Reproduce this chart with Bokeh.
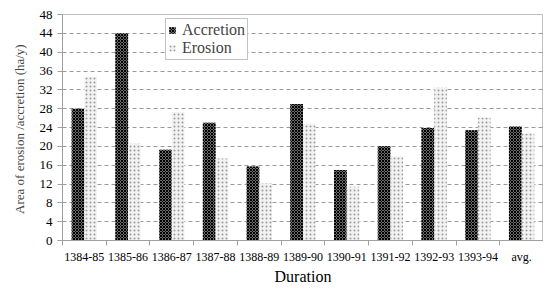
from bokeh.plotting import figure
from bokeh.models import ColumnDataSource, FixedTicker, Legend, LegendItem
from bokeh.transform import dodge
from bokeh.embed import file_html
from bokeh.resources import INLINE

categories = ["1384-85", "1385-86", "1386-87", "1387-88", "1388-89", "1389-90",
              "1390-91", "1391-92", "1392-93", "1393-94", "avg."]
accretion = [28.0, 44.0, 19.3, 25.0, 15.7, 29.0, 15.0, 20.0, 23.9, 23.4, 24.2]
erosion = [34.8, 20.6, 27.3, 17.4, 12.2, 24.8, 11.4, 17.9, 32.5, 26.1, 22.7]
y_ticks = [0, 4, 8, 12, 16, 20, 24, 28, 32, 36, 40, 44, 48]

xpos = [i + 0.5 for i in range(len(categories))]
src = ColumnDataSource(dict(x=xpos, acc=accretion, ero=erosion))

SERIF = "Liberation Serif"

p = figure(frame_width=481, frame_height=226, x_range=(0, len(categories)), y_range=(0, 48),
           output_backend="svg", toolbar_location=None,
           min_border_left=62, min_border_right=0, min_border_top=14, min_border_bottom=40)
p.outline_line_color = "#bfbfbf"
p.outline_line_width = 1

w = 0.29
r_acc = p.vbar(x=dodge("x", -w / 2, range=p.x_range), top="acc", width=w, source=src,
               fill_color="#6a6a6a", line_color=None,
               hatch_pattern="diagonal_cross", hatch_color="#000000", hatch_scale=3,
               hatch_weight=1.0)
r_ero = p.vbar(x=dodge("x", w / 2, range=p.x_range), top="ero", width=w, source=src,
               fill_color="#f2f2f2", line_color=None,
               hatch_pattern="dot", hatch_color="#9c9c9c", hatch_scale=4,
               hatch_weight=1.6)

p.xaxis.ticker = FixedTicker(ticks=xpos, minor_ticks=list(range(len(categories) + 1)))
p.xaxis.major_label_overrides = {x: c for x, c in zip(xpos, categories)}
p.xaxis.major_tick_line_color = None
p.xaxis.minor_tick_in = 0
p.xaxis.minor_tick_out = 5
p.xaxis.minor_tick_line_color = "#a0a0a0"
p.xaxis.axis_line_color = "#a0a0a0"
p.xaxis.major_label_text_font = SERIF
p.xaxis.major_label_text_font_size = "12px"
p.xaxis.major_label_text_color = "#000000"
p.xaxis.major_label_standoff = 3
p.xaxis.axis_label = "Duration"
p.xaxis.axis_label_text_font = SERIF
p.xaxis.axis_label_text_font_style = "normal"
p.xaxis.axis_label_text_font_size = "16px"
p.xaxis.axis_label_text_color = "#000000"
p.xaxis.axis_label_standoff = 1

p.yaxis.ticker = FixedTicker(ticks=y_ticks)
p.yaxis.major_tick_in = 0
p.yaxis.major_tick_out = 5
p.yaxis.minor_tick_line_color = None
p.yaxis.major_tick_line_color = "#a0a0a0"
p.yaxis.axis_line_color = "#a0a0a0"
p.yaxis.major_label_text_font = SERIF
p.yaxis.major_label_text_font_size = "13px"
p.yaxis.major_label_text_color = "#000000"
p.yaxis.major_label_standoff = 5
p.yaxis.axis_label = "Area of erosion /accretion  (ha/y)"
p.yaxis.axis_label_text_font = SERIF
p.yaxis.axis_label_text_font_style = "normal"
p.yaxis.axis_label_text_font_size = "13px"
p.yaxis.axis_label_standoff = 10

p.xgrid.grid_line_color = None
p.ygrid.grid_line_color = "#9a9a9a"
p.ygrid.grid_line_dash = "4 3"
p.ygrid.grid_line_width = 1

legend = Legend(items=[LegendItem(label="Accretion", renderers=[r_acc]),
                       LegendItem(label="Erosion", renderers=[r_ero])])
legend.label_text_font = SERIF
legend.label_text_font_size = "16px"
legend.glyph_width = 8
legend.glyph_height = 8
legend.label_standoff = 6
legend.spacing = 0
legend.padding = 2
legend.margin = 0
legend.label_height = 18
legend.border_line_color = "#888888"
legend.background_fill_alpha = 1
p.add_layout(legend, "center")
legend.location = (103, 180)

open("out.html", "w").write(file_html(p, INLINE))
